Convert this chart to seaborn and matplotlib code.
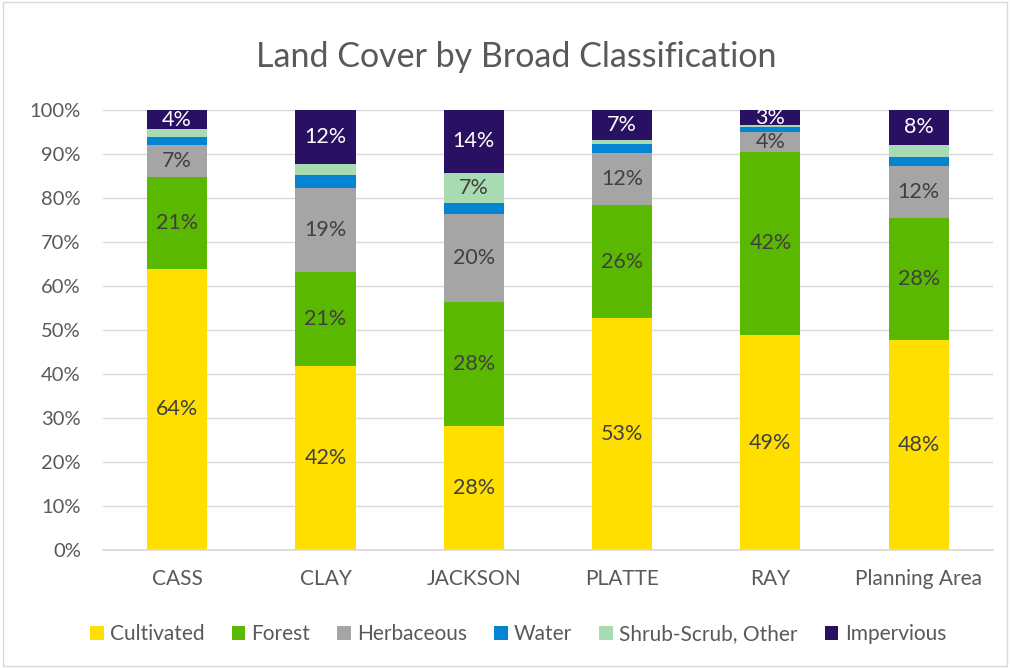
"""Land cover by broad classification, stacked percentage bars."""

import matplotlib as mpl
import matplotlib.pyplot as plt
import matplotlib.ticker as ticker
import numpy as np
import pandas as pd
import seaborn as sns
from matplotlib.patches import Patch, Rectangle

counties = ["CASS", "CLAY", "JACKSON", "PLATTE", "RAY", "Planning Area"]
classes = ["Cultivated", "Forest", "Herbaceous", "Water", "Shrub-Scrub, Other", "Impervious"]

cultivated = [63.9, 41.9, 28.2, 52.7, 48.8, 47.7]
forest = [21.0, 21.2, 28.1, 25.7, 41.8, 27.7]
herbaceous = [7.2, 19.1, 20.2, 11.9, 4.4, 12.0]
water = [1.7, 3.0, 2.5, 2.1, 1.2, 2.0]
shrub = [1.9, 2.5, 6.8, 0.9, 0.4, 2.8]
impervious = [4.3, 12.3, 14.2, 6.7, 3.4, 7.8]

colors = ["#FFDF00", "#5BB800", "#A5A5A5", "#0484D1", "#A9DBB2", "#2A1063"]
label_colors = ["#404040", "#404040", "#404040", "#404040", "#404040", "#FFFFFF"]

series = [cultivated, forest, herbaceous, water, shrub, impervious]

sns.set_theme(style="white")
mpl.rcParams["font.family"] = ["Lato", "DejaVu Sans"]

fig = plt.figure(figsize=(10.1, 6.68), dpi=100)
ax = fig.add_axes([0.102, 0.177, 0.881, 0.658])

# cumulative stacks, drawn from the tallest down so lower classes sit on top
stack = np.cumsum(np.array(series), axis=0)
for i in range(len(classes) - 1, -1, -1):
    df = pd.DataFrame({"county": counties, "top": stack[i]})
    sns.barplot(data=df, x="county", y="top", order=counties, color=colors[i],
                width=0.405, saturation=1, linewidth=0, ax=ax)

# data labels
for i, vals in enumerate(series):
    for j, v in enumerate(vals):
        if v < 3.25:
            continue
        mid = stack[i][j] - v / 2
        ax.text(j, mid, f"{v:.0f}%", ha="center", va="center",
                fontsize=15.5, color=label_colors[i])

ax.set_ylim(0, 100)
ax.set_xlim(-0.5, len(counties) - 0.5)
ax.yaxis.set_major_locator(ticker.MultipleLocator(10))
ax.yaxis.set_major_formatter(ticker.FuncFormatter(lambda v, p: f"{v:.0f}%"))
ax.grid(axis="y", color="#D9D9D9", linewidth=1)
ax.set_axisbelow(True)
for side in ["top", "right", "left"]:
    ax.spines[side].set_visible(False)
ax.spines["bottom"].set_color("#D9D9D9")
ax.tick_params(axis="both", length=0, labelcolor="#595959")
ax.tick_params(axis="x", pad=14, labelsize=15)
ax.tick_params(axis="y", pad=16, labelsize=14.5)
ax.set_xlabel("")
ax.set_ylabel("")

fig.text(0.511, 0.915, "Land Cover by Broad Classification", ha="center", va="center",
         fontsize=24.5, color="#595959")

handles = [Patch(facecolor=c, edgecolor="none", label=n) for c, n in zip(colors, classes)]
fig.legend(handles=handles, loc="center", bbox_to_anchor=(0.513, 0.051), ncol=6,
           frameon=False, fontsize=15, labelcolor="#595959",
           handlelength=0.65, handleheight=0.65, handletextpad=0.3, columnspacing=1.3)

fig.patches.append(Rectangle((0.003, 0.003), 0.994, 0.994, transform=fig.transFigure,
                             fill=False, edgecolor="#D9D9D9", linewidth=1))

fig.savefig("out.png", dpi=100, facecolor="white")
